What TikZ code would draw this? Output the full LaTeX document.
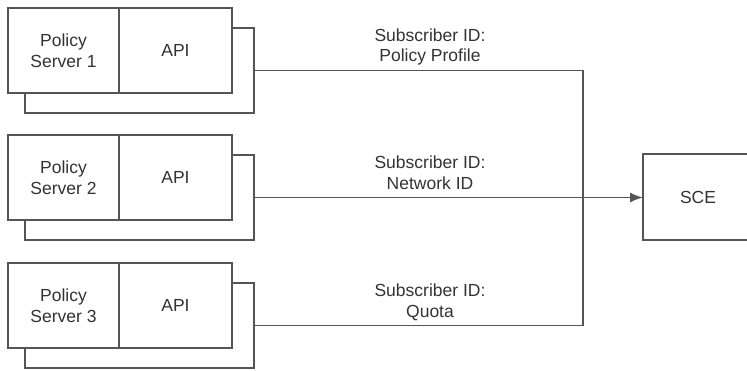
\documentclass[tikz,border=0pt]{standalone}
\usepackage{fontspec}
\setmainfont{Liberation Sans}
\usetikzlibrary{arrows.meta,calc}
\definecolor{ln}{HTML}{555555}
\definecolor{tx}{HTML}{333333}
\begin{document}
\begin{tikzpicture}[x=1pt,y=-1pt,
  box/.style={draw=ln,line width=1.6pt,fill=white,inner sep=0pt,outer sep=0pt,anchor=north west},
  txt/.style={text=tx,font=\fontsize{17.5}{20.5}\selectfont,align=center,inner sep=0pt},
  wire/.style={draw=ln,line width=1.6pt}]
\useasboundingbox (0,0) rectangle (747,370);
\foreach \i/\t in {1/8,2/135,3/263}{
  \node[box,minimum width=229pt,minimum height=85pt] (sh\i) at (25,\t+20) {};
  \node[box,minimum width=111pt,minimum height=85pt,txt] (ps\i) at (8,\t) {Policy\\Server \i};
  \node[box,minimum width=113pt,minimum height=85pt,txt] (api\i) at (119,\t) {API};
}
\node[box,minimum width=110pt,minimum height=86pt,txt,anchor=center] (sce) at (698,197) {SCE};
\coordinate (bus1) at (583,0);
\draw[wire] (sh1.east) -- (sh1.east -| bus1) -- (sh3.east -| bus1) -- (sh3.east);
\draw[wire,-{Latex[length=13pt,width=10pt]}] (sh2.east) -- (sh2.east -| sce.west);
\node[txt] (l1) at (430,47) {Subscriber ID:\\Policy Profile};
\node[txt] (l2) at (430,172.5) {Subscriber ID:\\Network ID};
\node[txt] (l3) at (430,302.5) {Subscriber ID:\\Quota};
\end{tikzpicture}
\end{document}
